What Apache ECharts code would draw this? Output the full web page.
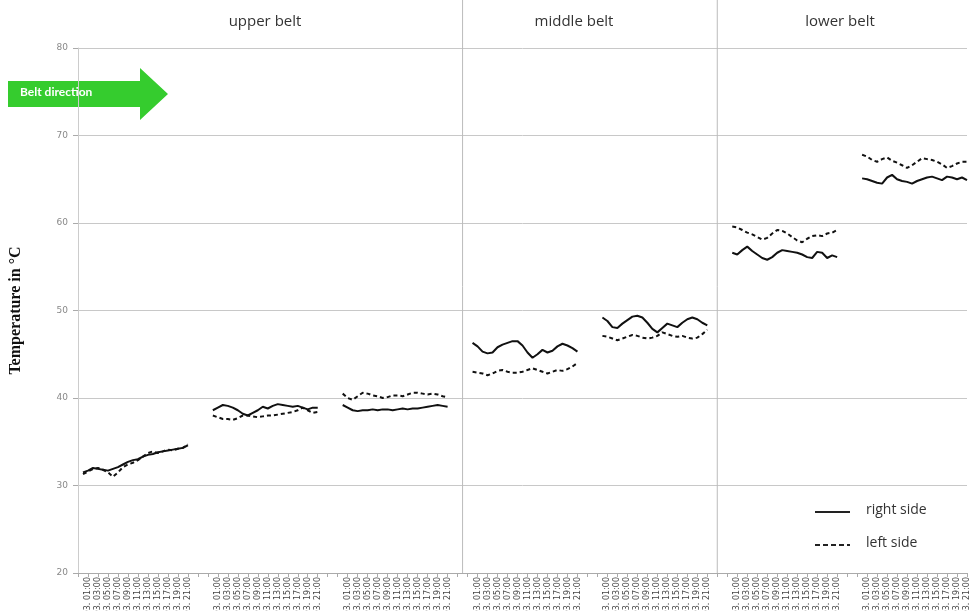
<!DOCTYPE html>
<html>
<head>
<meta charset="utf-8">
<script src="https://cdn.jsdelivr.net/npm/echarts@6/dist/echarts.min.js"></script>
<style>
  * { margin: 0; padding: 0; }
  body { background: #fff; }
  #main { width: 969px; height: 611px; }
</style>
</head>
<body>
<div id="main"></div>
<script>
// measuring points per position, 7 positions along the belt
var timeLabels = ['00:00','01:00','02:00','03:00','04:00','05:00','06:00','07:00','08:00','09:00','10:00',
                  '11:00','12:00','13:00','14:00','15:00','16:00','17:00','18:00','19:00','20:00','21:00'];
var dayLabel = '24.03.';
var beltNames = ['upper belt', 'middle belt', 'lower belt'];
var legendNames = ['right side', 'left side'];

var rightSide = [
  [31.5,31.7,32.0,31.9,31.8,31.7,31.9,32.1,32.4,32.7,32.9,33.0,33.3,33.5,33.6,33.8,33.9,34.0,34.1,34.2,34.3,34.6],
  [38.6,38.9,39.2,39.1,38.9,38.6,38.2,38.0,38.3,38.6,39.0,38.8,39.1,39.3,39.2,39.1,39.0,39.1,38.9,38.7,38.9,38.9],
  [39.2,38.9,38.6,38.5,38.6,38.6,38.7,38.6,38.7,38.7,38.6,38.7,38.8,38.7,38.8,38.8,38.9,39.0,39.1,39.2,39.1,39.0],
  [46.3,45.9,45.3,45.1,45.2,45.8,46.1,46.3,46.5,46.5,46.0,45.2,44.6,45.0,45.5,45.2,45.4,45.9,46.2,46.0,45.7,45.3],
  [49.2,48.8,48.1,48.0,48.5,48.9,49.3,49.4,49.2,48.6,47.9,47.5,48.0,48.5,48.3,48.1,48.6,49.0,49.2,49.0,48.6,48.3],
  [56.6,56.4,56.9,57.3,56.8,56.4,56.0,55.8,56.1,56.6,56.9,56.8,56.7,56.6,56.4,56.1,56.0,56.7,56.6,56.0,56.3,56.1],
  [65.1,65.0,64.8,64.6,64.5,65.2,65.5,65.0,64.8,64.7,64.5,64.8,65.0,65.2,65.3,65.1,64.9,65.3,65.2,65.0,65.2,64.9]
];
var leftSide = [
  [31.3,31.6,31.9,32.0,31.8,31.5,31.0,31.5,32.1,32.4,32.6,32.9,33.3,33.7,33.9,33.7,33.9,34.1,34.0,34.2,34.3,34.7],
  [38.0,37.8,37.6,37.6,37.5,37.7,38.0,38.0,37.9,37.8,37.9,38.0,38.0,38.1,38.2,38.3,38.4,38.6,38.9,38.6,38.3,38.4],
  [40.5,40.0,39.8,40.2,40.6,40.5,40.3,40.2,40.0,40.1,40.3,40.3,40.2,40.4,40.6,40.6,40.5,40.4,40.5,40.4,40.2,40.1],
  [43.0,42.9,42.8,42.6,42.8,43.1,43.2,43.0,42.9,42.9,43.0,43.2,43.4,43.2,43.0,42.8,43.0,43.2,43.1,43.3,43.6,44.0],
  [47.1,47.0,46.8,46.6,46.8,47.0,47.2,47.1,46.9,46.8,46.9,47.1,47.5,47.3,47.1,47.0,47.1,46.9,46.8,46.9,47.3,47.8],
  [59.6,59.5,59.2,58.9,58.7,58.4,58.1,58.3,58.8,59.2,59.1,58.8,58.4,58.0,57.8,58.2,58.5,58.6,58.5,58.8,58.9,59.2],
  [67.8,67.6,67.2,67.0,67.3,67.5,67.1,66.9,66.6,66.3,66.6,67.0,67.4,67.3,67.2,67.0,66.7,66.3,66.5,66.8,67.0,67.0]
];

var GAP = 4;

// one category list with empty slots between the positions
function flatten(segs, fill) {
  var out = [fill];
  segs.forEach(function (s, i) {
    out = out.concat(s);
    if (i < segs.length - 1) {
      for (var g = 0; g < GAP; g++) out.push(fill);
    }
  });
  return out;
}
var stamps = timeLabels.map(function (t) { return dayLabel + ' ' + t; });
var categories = flatten(rightSide.map(function () { return stamps; }), '');
var rightData = flatten(rightSide, null);
var leftData = flatten(leftSide, null);
var segLen = timeLabels.length + GAP;

var chart = echarts.init(document.getElementById('main'));
chart.setOption({
  animation: false,
  grid: { left: 78, right: 2, top: 48, bottom: 38, containLabel: false, outerBoundsMode: 'none' },
  xAxis: {
    type: 'category',
    data: categories,
    boundaryGap: false,
    axisLine: { lineStyle: { color: '#aaa' } },
    axisTick: { show: true, interval: 1, length: 4, lineStyle: { color: '#aaa' } },
    axisLabel: {
      interval: 1,
      rotate: 90,
      fontSize: 8,
      color: '#444',
      margin: 4,
      fontFamily: 'DejaVu Sans'
    },
    splitLine: { show: false }
  },
  yAxis: {
    type: 'value',
    min: 20,
    max: 80,
    interval: 10,
    name: 'Temperature in °C',
    nameLocation: 'middle',
    nameGap: 54,
    nameTextStyle: { fontFamily: 'Liberation Serif', fontWeight: 'bold', fontSize: 16, color: '#111' },
    axisLine: { show: true, lineStyle: { color: '#ccc' } },
    axisTick: { show: true, length: 5, lineStyle: { color: '#aaa' } },
    axisLabel: { fontSize: 9, color: '#888', margin: 10, fontFamily: 'DejaVu Sans' },
    splitLine: { lineStyle: { color: '#c8c8c8' } }
  },
  series: [
    {
      name: legendNames[0],
      type: 'line',
      data: rightData,
      showSymbol: false,
      connectNulls: false,
      lineStyle: { color: '#111', width: 2, type: 'solid' }
    },
    {
      name: legendNames[1],
      type: 'line',
      data: leftData,
      showSymbol: false,
      connectNulls: false,
      lineStyle: { color: '#111', width: 2, type: [4, 3] }
    }
  ]
});

// belt separators + titles + arrow + legend keys
var sep1 = chart.convertToPixel({ xAxisIndex: 0 }, segLen * 3 - 1);
var sep2 = chart.convertToPixel({ xAxisIndex: 0 }, segLen * 5 - 2);
var bottomY = chart.convertToPixel({ yAxisIndex: 0 }, 20);

chart.setOption({
  graphic: [
    { type: 'line', shape: { x1: sep1, y1: 0, x2: sep1, y2: bottomY }, style: { stroke: '#bbb', lineWidth: 1 } },
    { type: 'line', shape: { x1: sep2, y1: 0, x2: sep2, y2: bottomY }, style: { stroke: '#bbb', lineWidth: 1 } },
    { type: 'text', x: 265, y: 14, style: { text: beltNames[0], fontFamily: 'Open Sans', fontSize: 15, fill: '#333', textAlign: 'center' } },
    { type: 'text', x: 574, y: 14, style: { text: beltNames[1], fontFamily: 'Open Sans', fontSize: 15, fill: '#333', textAlign: 'center' } },
    { type: 'text', x: 840, y: 14, style: { text: beltNames[2], fontFamily: 'Open Sans', fontSize: 15, fill: '#333', textAlign: 'center' } },
    {
      type: 'polygon',
      shape: { points: [[8, 81], [140, 81], [140, 68], [168, 94], [140, 120], [140, 107], [8, 107]] },
      style: { fill: '#35cc2e' }
    },
    { type: 'text', x: 20, y: 86, style: { text: 'Belt direction', fontFamily: 'Lato', fontWeight: 'bold', fontSize: 12, fill: '#fff' } },
    { type: 'line', shape: { x1: 815, y1: 512, x2: 850, y2: 512 }, style: { stroke: '#222', lineWidth: 2 } },
    { type: 'line', shape: { x1: 815, y1: 545, x2: 850, y2: 545 }, style: { stroke: '#222', lineWidth: 2, lineDash: [5, 3] } },
    { type: 'text', x: 866, y: 503, style: { text: legendNames[0], fontFamily: 'Open Sans', fontSize: 14, fill: '#333' } },
    { type: 'text', x: 866, y: 536, style: { text: legendNames[1], fontFamily: 'Open Sans', fontSize: 14, fill: '#333' } }
  ]
});
</script>
</body>
</html>
